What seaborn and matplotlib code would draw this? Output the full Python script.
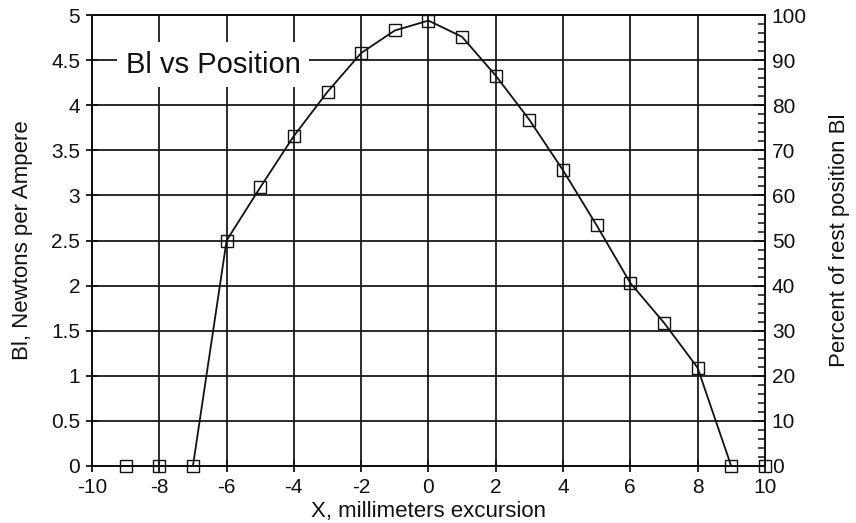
import matplotlib
matplotlib.use("Agg")
import matplotlib.pyplot as plt
from matplotlib.ticker import MultipleLocator
import numpy as np
import pandas as pd
import seaborn as sns

# excursion (mm) and force factor Bl (N/A)
x_mm = [-9, -8, -7, -6, -5, -4, -3, -2, -1, 0, 1, 2, 3, 4, 5, 6, 7, 8, 9, 10]
bl = [0, 0, 0, 2.50, 3.09, 3.66, 4.15, 4.58, 4.83, 4.94, 4.76, 4.33,
      3.84, 3.28, 2.67, 2.03, 1.59, 1.09, 0, 0]

df = pd.DataFrame({"x": x_mm, "bl": bl})

sns.set_style("ticks")
plt.rcParams["font.family"] = ["Liberation Sans", "DejaVu Sans"]
plt.rcParams.update({
    "axes.unicode_minus": False,
    "axes.edgecolor": "#111111",
    "axes.linewidth": 1.4,
    "xtick.color": "#111111",
    "ytick.color": "#111111",
    "text.color": "#111111",
    "axes.labelcolor": "#111111",
})

fig = plt.figure(figsize=(8.56, 5.23), dpi=100)
ax = fig.add_axes([0.1075, 0.109, 0.786, 0.862])

ax.grid(True, color="#1a1a1a", linewidth=1.3)
ax.set_axisbelow(True)
sns.lineplot(data=df, x="x", y="bl", ax=ax, color="#111111", linewidth=1.3,
             marker="s", markersize=9, markerfacecolor="none",
             markeredgecolor="#111111", markeredgewidth=1.0, clip_on=False,
             zorder=5)

ax.set_xlim(-10, 10)
ax.set_ylim(0, 5)
ax.xaxis.set_major_locator(MultipleLocator(2))
ax.set_yticks(np.arange(0, 5.01, 0.5))
ax.set_yticklabels([f"{v:g}" for v in np.arange(0, 5.01, 0.5)])
ax.tick_params(axis="both", direction="inout", length=9, width=1.3,
               labelsize=15, pad=4)
ax.set_xlabel("X, millimeters excursion", fontsize=16, va="center")
ax.set_ylabel("Bl, Newtons per Ampere", fontsize=16, va="center")
ax.xaxis.set_label_coords(0.5, -0.1)
ax.yaxis.set_label_coords(-0.104, 0.5)

ax.text(-9.0, 4.36, "Bl vs Position", fontsize=21, ha="left", va="baseline",
        zorder=4, bbox=dict(facecolor="white", edgecolor="none", pad=6))

ax2 = ax.twinx()
ax2.set_ylim(0, 100)
ax2.yaxis.set_major_locator(MultipleLocator(10))
ax2.yaxis.set_minor_locator(MultipleLocator(2))
ax2.tick_params(axis="y", which="major", direction="in", length=9, width=1.3,
                labelsize=15, pad=5)
ax2.tick_params(axis="y", which="minor", direction="in", length=5, width=1.1)
ax2.set_ylabel("Percent of rest position Bl", fontsize=16, va="center")
ax2.yaxis.set_label_coords(1.111, 0.5)
for s in ["left", "right", "top", "bottom"]:
    ax.spines[s].set_visible(True)
    ax2.spines[s].set_visible(True)

fig.savefig("out.png", dpi=100, facecolor="white")
